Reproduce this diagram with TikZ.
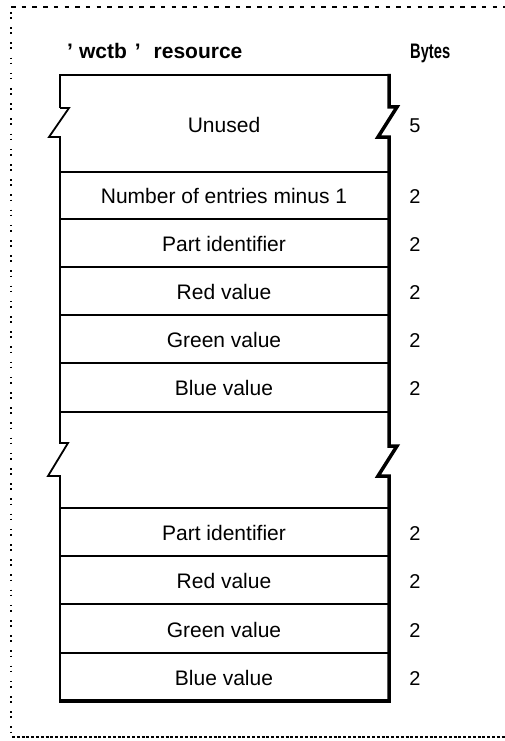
\documentclass[tikz,border=0pt]{standalone}
\usepackage{fontspec}
\usepackage{graphicx}
\setmainfont{Liberation Sans}
\begin{document}
\begin{tikzpicture}[x=1pt,y=-1pt,
  lbl/.style={font=\fontsize{21}{22}\selectfont,anchor=base,inner sep=0pt},
  num/.style={font=\fontsize{20}{22}\selectfont,anchor=base,inner sep=0pt},
  hdr/.style={font=\bfseries\fontsize{21}{22}\selectfont,anchor=base west,inner sep=0pt},
  divider/.style={line width=1.6pt},
  outline/.style={line width=1.8pt,line join=miter}]
\useasboundingbox (0,0) rectangle (505,741);
% frame
\draw[line width=1.6pt,dash pattern=on 4.5pt off 6.2pt] (11,7) -- (505,7);
\draw[line width=1.6pt,dash pattern=on 1.6pt off 3.5pt on 1.6pt off 8.5pt] (11,12) -- (11,737);
\draw[line width=2pt,dash pattern=on 3pt off 1.8pt] (12,737) -- (505,737);
% header
\node[hdr] (title) at (67,59) {'\hspace{6pt}wctb\hspace{8pt}'\hspace{13pt}resource};
\node[hdr] (bytes) at (410,59) {\scalebox{0.7}[1]{Bytes}};
% outline left and top
\draw[outline] (60,108) -- (60,75) -- (389,75);
\draw[outline] (60,108) -- (69,108) -- (49,137) -- (60,137) -- (60,443) -- (68,443) -- (48,476) -- (60,476) -- (60,701);
% right (thick)
\draw[line width=3.5pt,line join=miter] (389,74) -- (389,107) -- (397,107) -- (378,137) -- (389,137) -- (389,446) -- (397,446) -- (378,476) -- (389,476) -- (389,702);
% bottom (thick)
\draw[line width=3.5pt] (59,701) -- (391,701);
% dividers
\foreach \yy in {172,219,267,315,363,412,508,556,604,653}
  \draw[divider] (60,\yy) -- (389,\yy);
% row labels
\node[lbl] (unused) at (224,132) {Unused};
\node[lbl] (nentries) at (224,203) {Number of entries minus 1};
\node[lbl] (part1) at (224,251) {Part identifier};
\node[lbl] (red1) at (224,299) {Red value};
\node[lbl] (green1) at (224,347) {Green value};
\node[lbl] (blue1) at (224,395) {Blue value};
\node[lbl] (part2) at (224,540) {Part identifier};
\node[lbl] (red2) at (224,588) {Red value};
\node[lbl] (green2) at (224,637) {Green value};
\node[lbl] (blue2) at (224,685) {Blue value};
% byte counts
\node[num] (n0) at (415,132) {5};
\node[num] (n1) at (415,203) {2};
\node[num] (n2) at (415,251) {2};
\node[num] (n3) at (415,299) {2};
\node[num] (n4) at (415,347) {2};
\node[num] (n5) at (415,395) {2};
\node[num] (n6) at (415,540) {2};
\node[num] (n7) at (415,588) {2};
\node[num] (n8) at (415,637) {2};
\node[num] (n9) at (415,685) {2};
\end{tikzpicture}
\end{document}
